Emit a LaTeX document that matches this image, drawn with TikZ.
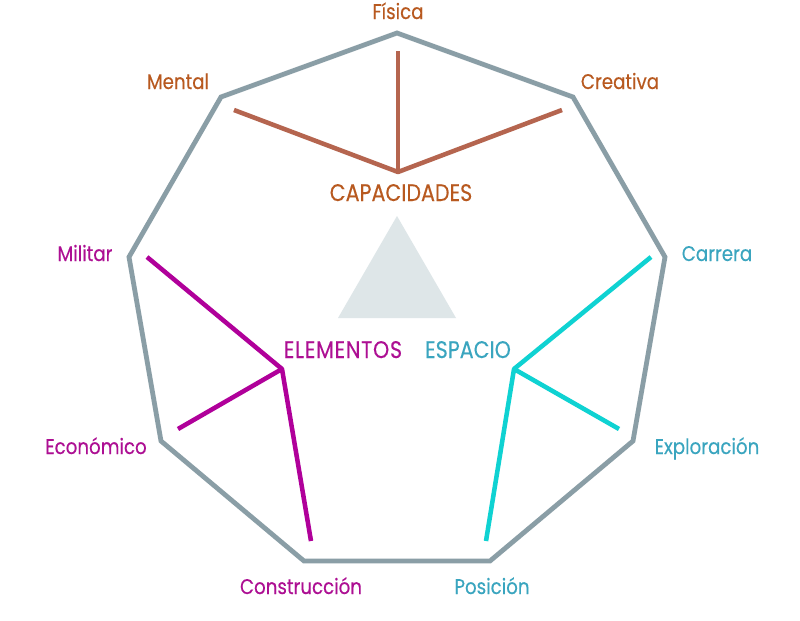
\documentclass[tikz,border=0pt]{standalone}
\usepackage{fontspec}
\setmainfont{Poppins}[FakeStretch=0.86,FakeBold=0.25]
\definecolor{rim}{HTML}{8A9EA6}
\definecolor{tri}{HTML}{DEE6E8}
\definecolor{capl}{HTML}{B5654F}
\definecolor{capt}{HTML}{B8591F}
\definecolor{eleml}{HTML}{B0009A}
\definecolor{elemt}{HTML}{AD0F93}
\definecolor{espl}{HTML}{0FD2D2}
\definecolor{espt}{HTML}{3AA5BF}
\tikzset{
  rimline/.style={draw=rim,line width=3.6pt,line join=miter},
  spoke/.style={line width=3.4pt,line join=round},
  lab/.style={inner sep=0pt,font=\fontsize{15.9pt}{18pt}\selectfont,anchor=base},
  capslab/.style={inner sep=0pt,font=\fontsize{18pt}{20pt}\selectfont,anchor=base},
}
\begin{document}
\begin{tikzpicture}[x=0.75pt,y=-0.75pt]
\useasboundingbox (0,0) rectangle (800,621);
\fill[white] (0,0) rectangle (800,621);
\coordinate (p1) at (397,33);
\coordinate (p2) at (573,97);
\coordinate (p3) at (665,257);
\coordinate (p4) at (633,441);
\coordinate (p5) at (490,561);
\coordinate (p6) at (304,561);
\coordinate (p7) at (161,441);
\coordinate (p8) at (129,257);
\coordinate (p9) at (221,97);
\draw[rimline] (p1)--(p2)--(p3)--(p4)--(p5)--(p6)--(p7)--(p8)--(p9)--cycle;
\coordinate (t1) at (397,216);
\coordinate (t2) at (338,318);
\coordinate (t3) at (456,318);
\fill[tri] (t1)--(t2)--(t3)--cycle;
% capacidades
\coordinate (ch) at (398,172);
\coordinate (c1) at (398,51);
\coordinate (c2) at (562,110);
\coordinate (c3) at (234,110);
\draw[spoke,capl] (c1)--(ch);
\draw[spoke,capl] (c2)--(ch)--(c3);
% elementos
\coordinate (eh) at (282,369);
\coordinate (e1) at (147,257);
\coordinate (e2) at (178,429);
\coordinate (e3) at (311,541);
\draw[spoke,eleml] (e1)--(eh);
\draw[spoke,eleml] (e2)--(eh)--(e3);
% espacio
\coordinate (sh) at (514,369);
\coordinate (s1) at (651,257);
\coordinate (s2) at (619,429);
\coordinate (s3) at (486,541);
\draw[spoke,espl] (s1)--(sh);
\draw[spoke,espl] (s2)--(sh)--(s3);
% labels
\node[lab,text=capt] (lfis) at (398,19) {Física};
\node[lab,text=capt] (lmen) at (178,89) {Mental};
\node[lab,text=capt] (lcre) at (620,89) {Creativa};
\node[capslab,text=capt] (lcap) at (401,201) {CAPACIDADES};
\node[lab,text=elemt] (lmil) at (85,261) {Militar};
\node[lab,text=elemt] (leco) at (96,454) {Económico};
\node[lab,text=elemt] (lcon) at (301,594) {Construcción};
\node[capslab,text=elemt] (lele) at (343,358) {\addfontfeature{LetterSpace=3}ELEMENTOS};
\node[capslab,text=espt] (lesp) at (468,358) {ESPACIO};
\node[lab,text=espt] (lcar) at (717,261) {Carrera};
\node[lab,text=espt] (lexp) at (707,454) {Exploración};
\node[lab,text=espt] (lpos) at (492,594) {Posición};
\end{tikzpicture}
\end{document}
